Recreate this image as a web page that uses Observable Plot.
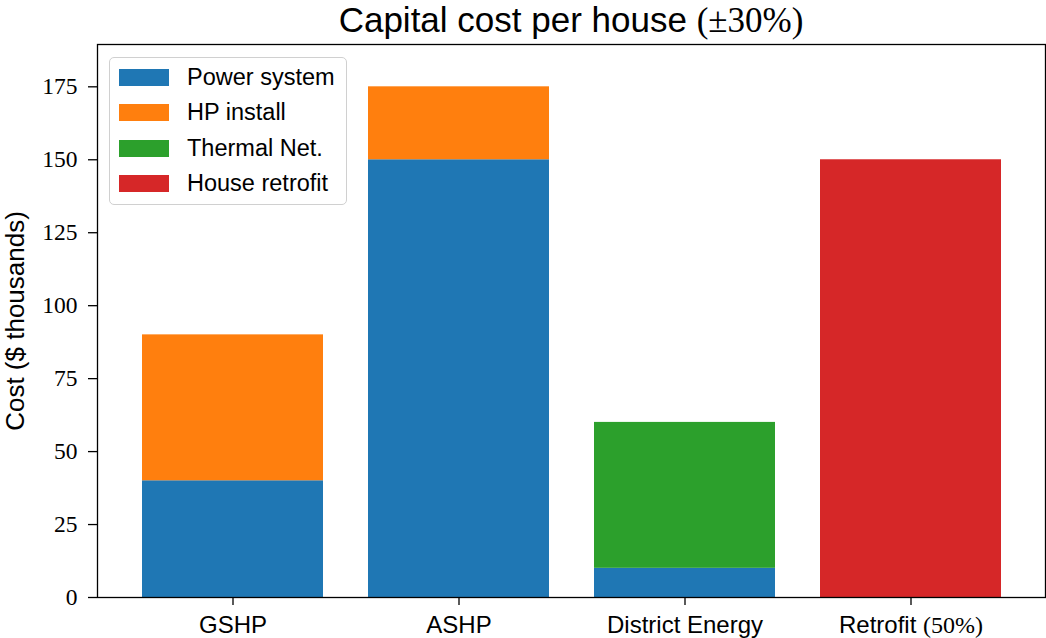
<!DOCTYPE html>
<html><head><meta charset="utf-8">
<script src="https://cdn.jsdelivr.net/npm/d3@7"></script>
<script src="https://cdn.jsdelivr.net/npm/@observablehq/plot@0.6"></script>
<style>
body{margin:0;background:#fff;}
#wrap{position:relative;width:1046px;height:638px;overflow:hidden;}
#title{position:absolute;left:97px;width:948px;top:0;height:43px;text-align:center;font-family:"Liberation Sans";font-size:35px;line-height:39px;color:#000;white-space:nowrap;}
.serif{font-family:"Liberation Serif";}
#chart{position:absolute;left:0;top:43px;}
#legend{position:absolute;left:109px;top:57px;width:236px;height:146px;border:1.3px solid #d0d0d0;border-radius:5px;background:rgba(255,255,255,0.8);font-family:"Liberation Sans";font-size:23.5px;color:#000;}
.row{position:absolute;left:0;height:20px;}
.sw{position:absolute;left:9px;width:50px;height:17px;}
.lab{position:absolute;left:77px;white-space:nowrap;line-height:23px;}
</style>
</head><body>
<div id="wrap">
  <div id="title">Capital cost per house <span class="serif">(±30%)</span></div>
  <div id="chart"></div>
  <div id="legend"></div>
</div>
<script>
const categories = ["GSHP", "ASHP", "District Energy", "Retrofit (50%)"];
const seriesNames = ["Power system", "HP install", "Thermal Net.", "House retrofit"];
const seriesColors = ["#1f77b4", "#ff7f0e", "#2ca02c", "#d62728"];
const powerSystem = [40, 150, 10, 0];
const hpInstall = [50, 25, 0, 0];
const thermalNet = [0, 0, 50, 0];
const houseRetrofit = [0, 0, 0, 150];
const yTicks = [0, 25, 50, 75, 100, 125, 150, 175];

const rows = [];
[powerSystem, hpInstall, thermalNet, houseRetrofit].forEach((vals, si) => {
  vals.forEach((v, ci) => {
    if (v > 0) rows.push({category: categories[ci], series: seriesNames[si], value: v});
  });
});

const chart = Plot.plot({
  width: 1046,
  height: 595,
  marginTop: 1,
  marginBottom: 41,
  marginLeft: 97,
  marginRight: 1,
  style: {background: "white", color: "black", overflow: "visible"},
  x: {domain: categories, paddingInner: 0.2, paddingOuter: 0.19, align: 0.5},
  y: {domain: [0, 189.5]},
  color: {domain: seriesNames, range: seriesColors},
  marks: [
    Plot.barY(rows, {x: "category", y: "value", fill: "series"}),
    Plot.frame({stroke: "black", strokeWidth: 1.3}),
    Plot.axisY({ticks: yTicks, tickSize: 9, tickPadding: 11, strokeWidth: 1.3, fontFamily: "Liberation Serif", fontSize: 23.5,
      label: "Cost ($ thousands)", labelAnchor: "center", labelOffset: 92, labelArrow: "none"}),
    Plot.axisX({tickSize: 8, tickPadding: 10, strokeWidth: 1.3, fontFamily: "Liberation Sans", fontSize: 24, label: null})
  ]
});
document.getElementById("chart").appendChild(chart);

// y-axis label in sans-serif
const ylab = chart.querySelector('g[aria-label="y-axis label"]');
if (ylab) {
  ylab.setAttribute("font-family", "Liberation Sans");
  ylab.setAttribute("font-size", "26");
}
// mixed font on Retrofit (50%) tick label
chart.querySelectorAll('g[aria-label="x-axis tick label"] text').forEach(t => {
  const s = t.textContent;
  const i = s.indexOf("(");
  if (i > 0) {
    t.textContent = "";
    const ns = "http://www.w3.org/2000/svg";
    const a = document.createElementNS(ns, "tspan"); a.textContent = s.slice(0, i);
    const b = document.createElementNS(ns, "tspan"); b.textContent = s.slice(i);
    b.setAttribute("font-family", "Liberation Serif");
    t.appendChild(a); t.appendChild(b);
  }
});

// legend
const rowCenters = [19, 54, 90, 125];
const legend = document.getElementById("legend");
seriesNames.forEach((name, i) => {
  const r = document.createElement("div");
  r.className = "row";
  r.style.top = (rowCenters[i] - 10) + "px";
  const sw = document.createElement("div");
  sw.className = "sw"; sw.style.background = seriesColors[i]; sw.style.top = "1.5px";
  const lab = document.createElement("div");
  lab.className = "lab"; lab.textContent = name; lab.style.top = "-1.5px";
  r.appendChild(sw); r.appendChild(lab);
  legend.appendChild(r);
});
</script>
</body></html>
